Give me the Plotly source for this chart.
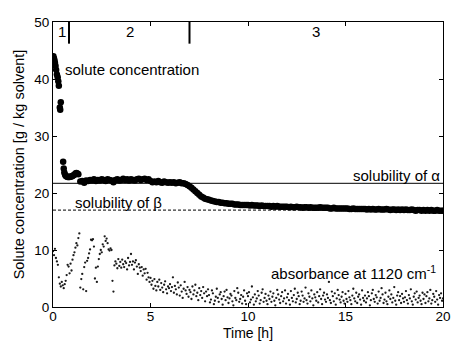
import numpy as np
import plotly.graph_objects as go

# ---- data ----
# early solute concentration points (distinct dots)
sol_t_early = [0.02, 0.05, 0.08, 0.10, 0.13, 0.16, 0.20, 0.24, 0.27, 0.30, 0.35, 0.37, 0.40,
               0.52, 0.55, 0.58, 0.62, 0.66, 0.70, 0.75, 0.80, 0.85, 0.90, 0.95, 1.00, 1.05,
               1.10, 1.15, 1.20, 1.25, 1.30]
sol_v_early = [44.0, 43.6, 43.2, 42.8, 42.3, 41.6, 40.8, 40.3, 39.6, 38.8, 35.0, 34.6, 35.9,
               25.5, 24.3, 23.6, 23.2, 23.0, 22.9, 22.8, 22.8, 22.8, 22.9, 22.9, 23.0, 23.1,
               23.2, 23.4, 23.5, 23.4, 23.3]
# regular part, every 0.1 h from 1.4 h
sol_start, sol_step = 1.4, 0.1
sol_v_reg = [
    22.0, 22.1, 21.8, 22.2, 22.1, 22.3,
    22.2, 22.4, 22.1, 22.3, 22.2, 22.4, 22.3, 22.1, 22.4, 22.3,
    22.2, 21.9, 22.3, 22.4, 22.2, 22.3, 22.5, 22.3, 22.4, 22.2,
    22.4, 22.3, 22.2, 22.4, 22.5, 22.3, 22.4, 22.5, 22.3, 22.4,
    22.1, 21.9, 22.0, 21.9, 22.1, 21.9, 21.8, 22.0, 21.9, 21.8,
    21.9, 21.8, 21.9, 21.7, 21.8, 21.9, 21.7, 21.7, 21.6, 21.4,
    21.2, 20.9, 20.6, 20.3, 20.0, 19.7, 19.4, 19.2, 19.0, 18.9,
    18.8, 18.7, 18.6, 18.5, 18.4, 18.4, 18.3, 18.3, 18.2, 18.2,
    18.1, 18.1, 18.1, 18.0, 18.0, 18.0, 17.9, 17.9, 17.9, 17.9,
    17.9, 17.8, 17.9, 17.8, 17.8, 17.8, 17.7, 17.8, 17.7, 17.7,
    17.7, 17.7, 17.6, 17.7, 17.6, 17.7, 17.6, 17.6, 17.6, 17.6,
    17.6, 17.5, 17.6, 17.5, 17.5, 17.6, 17.5, 17.5, 17.4, 17.5,
    17.5, 17.4, 17.5, 17.4, 17.4, 17.4, 17.4, 17.5, 17.4, 17.4,
    17.4, 17.4, 17.3, 17.3, 17.4, 17.3, 17.3, 17.3, 17.3, 17.3,
    17.3, 17.3, 17.2, 17.2, 17.3, 17.2, 17.2, 17.2, 17.2, 17.2,
    17.2, 17.1, 17.2, 17.1, 17.2, 17.1, 17.1, 17.2, 17.1, 17.1,
    17.1, 17.2, 17.1, 17.0, 17.1, 17.1, 17.0, 17.1, 17.0, 17.1,
    17.0, 17.1, 17.0, 17.0, 17.1, 17.0, 16.9, 17.0, 17.0, 16.9,
    17.0, 16.9, 17.0, 16.9, 17.0, 16.9, 16.9, 17.0, 16.9, 16.9,
    16.9,
]

# absorbance at 1120 cm-1, every 0.05 h from 0 h
abs_start, abs_step = 0.0, 0.05
abs_v = [
    9.8, 9.1, 10.2, 8.6, 8.0, 7.4, 5.2, 4.1, 3.6, 4.4, 3.8, 3.3, 4.0, 4.6, 5.6, 7.4, 7.1, 5.9, 7.6, 6.4,
    8.3, 9.1, 9.6, 10.4, 11.2, 10.8, 12.1, 12.9, 3.4, 4.9, 5.8, 3.1, 7.0, 7.8, 2.8, 8.1, 8.6, 9.4, 10.1, 11.8,
    11.7, 11.9, 10.6, 5.0, 6.9, 4.4, 7.1, 8.4, 9.3, 10.0, 9.6, 11.0, 10.6, 12.4, 11.6, 12.0, 11.2, 10.1, 9.9, 10.3,
    10.0, 4.6, 2.7, 7.3, 8.0, 7.6, 6.8, 8.4, 7.2, 7.9, 6.9, 8.3, 7.5, 7.0, 8.0, 7.7, 6.6, 8.6, 7.3, 7.9,
    9.3, 7.4, 8.0, 6.6, 7.8, 8.2, 7.1, 5.8, 7.5, 6.9, 6.3, 7.0, 5.5, 6.6, 5.9, 6.7, 4.8, 6.0, 5.2, 4.4,
    5.1, 3.9, 4.6, 3.2, 4.9, 3.7, 2.9, 4.4, 3.6, 4.8, 3.0, 4.2, 3.4, 2.6, 3.9, 4.5, 3.1, 2.4, 3.6, 3.3,
    4.0, 2.8, 3.5, 5.2, 2.5, 3.7, 3.1, 2.2, 4.3, 3.4, 2.0, 3.8, 2.7, 1.6, 3.2, 4.4, 2.9, 2.3, 3.5, 1.8,
    3.0, 2.6, 1.4, 3.6, 2.2, 2.9, 3.9, 1.9, 2.5, 1.2, 3.3, 2.1, 2.8, 1.6, 3.5, 2.4, 1.0, 2.7, 1.9, 3.1,
    2.1, 0.8, 1.3, 2.9, 2.4, 0.5, 1.1, 1.8, 3.2, 1.6, 0.9, 2.2, 2.6, 1.4, 0.4, 1.9, 2.7, 1.2, 3.0, 1.7,
    0.7, 1.5, 2.3, 2.0, 1.0, 0.3, 2.8, 1.6, 1.2, 3.3, 2.5, 0.9, 1.4, 2.1, 0.6, 1.8, 2.9, 1.1, 0.5, 2.4,
    1.9, 2.6, 0.8, 1.3, 3.6, 1.7, 0.4, 2.2, 1.0, 1.5, 2.8, 2.0, 0.6, 1.2, 2.5, 3.1, 0.9, 1.6, 2.3, 1.1,
    0.5, 2.0, 1.4, 2.7, 0.9, 1.8, 2.4, 1.1, 0.3, 1.6, 3.0, 2.2, 1.3, 0.7, 1.9, 2.6, 1.0, 1.5, 2.9, 0.6,
    1.7, 2.3, 1.2, 0.4, 2.8, 1.6, 1.0, 2.1, 3.2, 0.8, 1.4, 2.5, 1.9, 0.5, 1.1, 2.7, 2.0, 0.9, 1.5, 3.4,
    1.2, 0.6, 2.4, 1.8, 1.0, 2.9, 1.5, 0.3, 2.2, 1.7, 1.1, 2.6, 0.8, 1.9, 3.1, 1.4, 0.5, 2.0, 2.5, 1.3,
    0.9, 2.2, 1.6, 4.4, 1.2, 0.7, 2.7, 1.9, 1.0, 2.4, 0.4, 1.5, 3.0, 2.1, 1.3, 0.8, 1.8, 2.6, 1.1, 0.6,
    2.3, 1.4, 0.9, 2.8, 1.7, 1.2, 0.5, 2.0, 3.2, 1.5, 1.0, 2.5, 0.7, 1.8, 2.2, 1.3, 0.4, 2.9, 1.6, 1.1,
    2.0, 0.8, 1.5, 2.6, 1.9, 0.3, 1.2, 2.4, 3.0, 1.4, 0.9, 2.1, 1.7, 0.6, 2.7, 1.1, 1.6, 3.3, 2.2, 0.7,
    1.3, 2.5, 1.0, 0.5, 1.8, 2.9, 1.4, 2.2, 0.8, 1.6, 3.5, 1.1, 0.4, 2.0, 2.6, 1.2, 1.9, 0.7, 2.3, 1.5,
    0.9, 1.7, 2.8, 1.2, 0.6, 2.1, 1.5, 3.1, 1.0, 0.4, 1.8, 2.4, 1.3, 2.7, 0.8, 1.6, 2.0, 1.1, 0.5, 2.5,
    1.4, 2.2, 0.7, 1.9, 2.6, 1.0, 1.5, 3.0, 0.6, 1.2, 2.3, 1.8, 0.9, 2.8, 1.3, 0.4, 2.1, 1.6, 2.4, 1.1,
    1.5,
]

sol_alpha = 21.7
sol_beta = 17.0
phase_bounds = [0.82, 7.0]
phase_labels = ["1", "2", "3"]
phase_label_x = [0.45, 3.95, 13.5]

x_ticks = [0, 5, 10, 15, 20]
y_ticks = [0, 10, 20, 30, 40, 50]

# ---- derived times ----
sol_t_reg = [round(sol_start + i * sol_step, 3) for i in range(len(sol_v_reg))]
abs_t = [round(abs_start + i * abs_step, 3) for i in range(len(abs_v))]

FONT = "Liberation Sans, Arial, Helvetica, sans-serif"
TXT = dict(size=15, color="black", family=FONT)

fig = go.Figure()
fig.add_trace(go.Scatter(x=abs_t, y=abs_v, mode="markers",
                         marker=dict(color="#1a1a1a", size=2.3), showlegend=False))
fig.add_trace(go.Scatter(x=sol_t_early + sol_t_reg, y=sol_v_early + sol_v_reg, mode="markers",
                         marker=dict(color="black", size=6.5), showlegend=False))

# solubility lines
fig.add_shape(type="line", x0=0, x1=20, y0=sol_alpha, y1=sol_alpha, xref="x", yref="y",
              line=dict(color="black", width=1), layer="below")
fig.add_shape(type="line", x0=0, x1=20, y0=sol_beta, y1=sol_beta, xref="x", yref="y",
              line=dict(color="black", width=1, dash="3px,2px"), layer="below")

# phase separators
for xb in phase_bounds:
    fig.add_shape(type="line", x0=xb, x1=xb, y0=50, y1=46.2, xref="x", yref="y",
                  line=dict(color="black", width=2))
for lab, lx in zip(phase_labels, phase_label_x):
    fig.add_annotation(x=lx, y=48.3, text=lab, showarrow=False, xref="x", yref="y", font=TXT)

fig.add_annotation(x=0.5, y=41.6, text="solute concentration", showarrow=False,
                   xanchor="left", font=TXT)
fig.add_annotation(x=19.95, y=23.1, text="solubility of α", showarrow=False,
                   xanchor="right", font=TXT)
fig.add_annotation(x=1.05, y=18.3, text="solubility of β", showarrow=False,
                   xanchor="left", font=TXT)
fig.add_annotation(x=19.75, y=6.0, text="absorbance at 1120 cm<sup>-1</sup>", showarrow=False,
                   xanchor="right", font=TXT)

# x-axis title as annotation (placed below tick labels)
fig.add_annotation(x=0.5, y=-0.123, xref="paper", yref="paper", text="Time [h]",
                   showarrow=False, yanchor="bottom", borderpad=0,
                   font=dict(size=14, color="black", family=FONT))

axis_common = dict(showline=True, linecolor="black", linewidth=1, mirror="ticks",
                   ticks="inside", ticklen=4, tickcolor="black", showgrid=False,
                   zeroline=False, automargin=False,
                   tickfont=dict(size=13.5, color="black", family=FONT))

fig.update_xaxes(range=[0, 20], tickvals=x_ticks, ticktext=[str(v) for v in x_ticks],
                 ticklabelstandoff=-3, **axis_common)
fig.update_yaxes(range=[0, 50], tickvals=y_ticks, ticktext=[str(v) for v in y_ticks],
                 title=dict(text="Solute concentration [g / kg solvent]",
                            font=dict(size=14.5, color="black", family=FONT), standoff=6),
                 **axis_common)

fig.update_layout(width=452, height=342, margin=dict(l=53, r=9, t=22, b=35),
                  paper_bgcolor="white", plot_bgcolor="white",
                  font=dict(family=FONT, color="black"))

fig.write_html("out.html")
